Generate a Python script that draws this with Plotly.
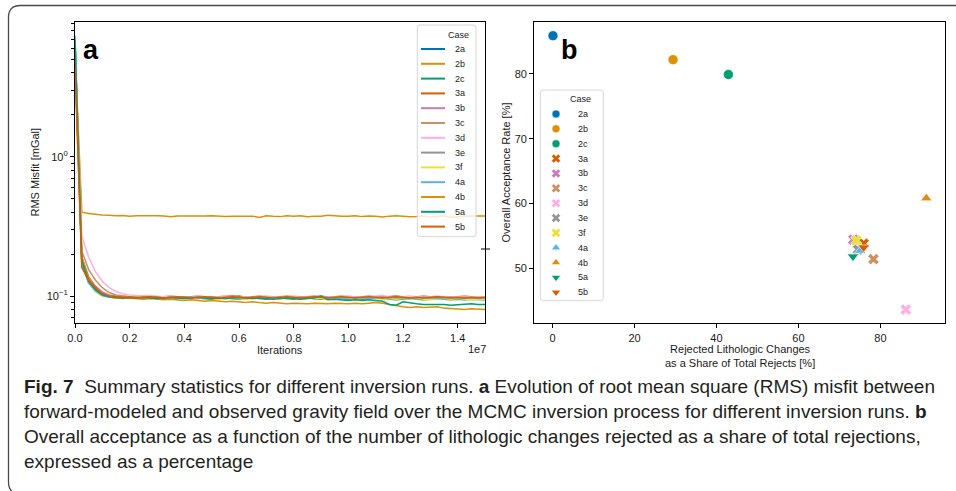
import math
import plotly.graph_objects as go

W, H = 956, 491

# ---- cases shared by both panels -------------------------------------------
cases = ["2a", "2b", "2c", "3a", "3b", "3c", "3d", "3e", "3f", "4a", "4b", "5a", "5b"]
case_colors = ["#0173B2", "#DE8F05", "#029E73", "#D55E00", "#CC78BC", "#CA9161",
               "#FBAFE4", "#949494", "#ECE133", "#56B4E9", "#DE8F05", "#029E73", "#D55E00"]
case_symbols = ["circle"] * 3 + ["x"] * 6 + ["triangle-up"] * 2 + ["triangle-down"] * 2

# ---- panel a: RMS misfit [mGal] sampled every 250 000 iterations ------------
iteration_step = 250000
iterations = [i * iteration_step for i in range(61)]

misfit_2a = [7.2, 0.18, 0.128, 0.112, 0.103, 0.099, 0.098, 0.097, 0.097, 0.098,
             0.097, 0.096, 0.097, 0.098, 0.097, 0.096, 0.097, 0.096, 0.097, 0.098,
             0.097, 0.096, 0.097, 0.098, 0.097, 0.096, 0.097, 0.097, 0.098, 0.097,
             0.096, 0.097, 0.098, 0.099, 0.097, 0.096, 0.097, 0.098, 0.097, 0.096,
             0.097, 0.098, 0.097, 0.096, 0.097, 0.098, 0.097, 0.096, 0.097, 0.098,
             0.097, 0.096, 0.097, 0.096, 0.097, 0.098, 0.097, 0.096, 0.097, 0.096,
             0.097]
misfit_2b = [5.6, 0.400, 0.392, 0.386, 0.382, 0.380, 0.377, 0.379, 0.375, 0.377,
             0.378, 0.375, 0.377, 0.376, 0.371, 0.376, 0.375, 0.378, 0.374, 0.376,
             0.377, 0.375, 0.372, 0.375, 0.374, 0.376, 0.375, 0.366, 0.377, 0.374,
             0.372, 0.377, 0.375, 0.378, 0.371, 0.375, 0.374, 0.380, 0.376, 0.375,
             0.374, 0.377, 0.372, 0.376, 0.374, 0.370, 0.375, 0.377, 0.374, 0.371,
             0.373, 0.376, 0.370, 0.374, 0.377, 0.367, 0.373, 0.375, 0.376, 0.374,
             0.376]
misfit_2c = [6.8, 0.17, 0.125, 0.110, 0.102, 0.099, 0.098, 0.098, 0.097, 0.097,
             0.098, 0.097, 0.096, 0.097, 0.098, 0.099, 0.097, 0.096, 0.097, 0.096,
             0.095, 0.096, 0.097, 0.096, 0.095, 0.096, 0.097, 0.096, 0.095, 0.096,
             0.097, 0.096, 0.095, 0.096, 0.097, 0.096, 0.095, 0.096, 0.097, 0.096,
             0.095, 0.096, 0.095, 0.096, 0.097, 0.096, 0.095, 0.094, 0.095, 0.096,
             0.095, 0.094, 0.095, 0.096, 0.095, 0.094, 0.095, 0.094, 0.095, 0.094,
             0.094]
misfit_3a = [4.8, 0.165, 0.135, 0.117, 0.106, 0.101, 0.099, 0.098, 0.098, 0.099,
             0.098, 0.099, 0.098, 0.097, 0.098, 0.099, 0.098, 0.097, 0.098, 0.099,
             0.098, 0.097, 0.098, 0.099, 0.100, 0.098, 0.097, 0.098, 0.099, 0.098,
             0.097, 0.098, 0.099, 0.098, 0.097, 0.098, 0.099, 0.098, 0.097, 0.098,
             0.099, 0.098, 0.097, 0.098, 0.099, 0.098, 0.097, 0.098, 0.099, 0.098,
             0.097, 0.098, 0.099, 0.098, 0.097, 0.098, 0.097, 0.098, 0.099, 0.098,
             0.097]
misfit_3b = [5.9, 0.19, 0.138, 0.118, 0.107, 0.102, 0.100, 0.099, 0.099, 0.098,
             0.099, 0.098, 0.097, 0.098, 0.099, 0.098, 0.097, 0.098, 0.099, 0.098,
             0.097, 0.098, 0.099, 0.098, 0.097, 0.096, 0.097, 0.098, 0.097, 0.098,
             0.099, 0.098, 0.097, 0.098, 0.097, 0.098, 0.099, 0.098, 0.097, 0.098,
             0.097, 0.098, 0.099, 0.098, 0.097, 0.098, 0.099, 0.100, 0.098, 0.097,
             0.098, 0.099, 0.098, 0.097, 0.098, 0.099, 0.098, 0.097, 0.098, 0.097,
             0.098]
misfit_3c = [6.0, 0.21, 0.155, 0.130, 0.115, 0.106, 0.102, 0.100, 0.099, 0.099,
             0.100, 0.099, 0.098, 0.099, 0.100, 0.099, 0.098, 0.099, 0.100, 0.099,
             0.098, 0.099, 0.100, 0.101, 0.099, 0.098, 0.099, 0.100, 0.099, 0.098,
             0.099, 0.100, 0.099, 0.098, 0.099, 0.100, 0.099, 0.098, 0.099, 0.100,
             0.099, 0.098, 0.099, 0.100, 0.099, 0.098, 0.099, 0.100, 0.099, 0.098,
             0.099, 0.100, 0.099, 0.098, 0.099, 0.098, 0.099, 0.100, 0.099, 0.098,
             0.099]
misfit_3d = [6.2, 0.27, 0.19, 0.150, 0.128, 0.115, 0.108, 0.104, 0.102, 0.101,
             0.100, 0.101, 0.100, 0.099, 0.100, 0.099, 0.098, 0.099, 0.100, 0.099,
             0.098, 0.099, 0.100, 0.099, 0.098, 0.099, 0.098, 0.099, 0.100, 0.099,
             0.098, 0.099, 0.100, 0.099, 0.098, 0.099, 0.100, 0.099, 0.098, 0.099,
             0.100, 0.099, 0.098, 0.099, 0.100, 0.101, 0.099, 0.098, 0.099, 0.100,
             0.099, 0.098, 0.099, 0.100, 0.099, 0.098, 0.099, 0.098, 0.099, 0.098,
             0.099]
misfit_3e = [6.4, 0.185, 0.133, 0.114, 0.104, 0.100, 0.098, 0.097, 0.098, 0.097,
             0.096, 0.097, 0.098, 0.097, 0.096, 0.097, 0.098, 0.097, 0.096, 0.097,
             0.098, 0.097, 0.096, 0.097, 0.096, 0.097, 0.098, 0.097, 0.096, 0.097,
             0.097, 0.096, 0.097, 0.098, 0.097, 0.096, 0.097, 0.096, 0.097, 0.098,
             0.097, 0.096, 0.097, 0.096, 0.097, 0.098, 0.097, 0.096, 0.097, 0.096,
             0.097, 0.096, 0.097, 0.098, 0.097, 0.096, 0.097, 0.096, 0.097, 0.096,
             0.096]
misfit_3f = [6.6, 0.175, 0.124, 0.107, 0.100, 0.098, 0.097, 0.097, 0.096, 0.097,
             0.098, 0.097, 0.096, 0.097, 0.098, 0.097, 0.096, 0.097, 0.096, 0.097,
             0.096, 0.095, 0.096, 0.097, 0.096, 0.095, 0.096, 0.097, 0.096, 0.097,
             0.096, 0.097, 0.096, 0.095, 0.096, 0.097, 0.096, 0.095, 0.096, 0.097,
             0.096, 0.095, 0.096, 0.097, 0.096, 0.095, 0.096, 0.095, 0.096, 0.095,
             0.096, 0.095, 0.094, 0.095, 0.096, 0.095, 0.096, 0.095, 0.094, 0.095,
             0.095]
misfit_4a = [7.4, 0.17, 0.124, 0.109, 0.101, 0.098, 0.097, 0.097, 0.098, 0.097,
             0.096, 0.097, 0.098, 0.097, 0.096, 0.097, 0.098, 0.099, 0.097, 0.096,
             0.097, 0.098, 0.097, 0.096, 0.097, 0.098, 0.097, 0.096, 0.097, 0.098,
             0.097, 0.096, 0.097, 0.098, 0.097, 0.099, 0.100, 0.098, 0.097, 0.096,
             0.097, 0.098, 0.097, 0.096, 0.097, 0.098, 0.097, 0.098, 0.097, 0.096,
             0.097, 0.098, 0.097, 0.096, 0.097, 0.098, 0.097, 0.096, 0.097, 0.096,
             0.097]
misfit_4b = [5.0, 0.19, 0.135, 0.115, 0.104, 0.099, 0.097, 0.096, 0.097, 0.096,
             0.095, 0.096, 0.095, 0.094, 0.095, 0.094, 0.093, 0.094, 0.093, 0.092,
             0.093, 0.092, 0.091, 0.092, 0.091, 0.090, 0.091, 0.090, 0.089, 0.090,
             0.089, 0.088, 0.089, 0.088, 0.088, 0.089, 0.088, 0.088, 0.089, 0.088,
             0.088, 0.089, 0.088, 0.089, 0.090, 0.089, 0.087, 0.085, 0.084, 0.083,
             0.084, 0.083, 0.083, 0.084, 0.082, 0.081, 0.080, 0.080, 0.081, 0.080,
             0.080]
misfit_5a = [6.9, 0.18, 0.128, 0.111, 0.102, 0.099, 0.098, 0.097, 0.098, 0.097,
             0.098, 0.097, 0.096, 0.097, 0.098, 0.097, 0.096, 0.097, 0.098, 0.097,
             0.096, 0.097, 0.096, 0.097, 0.098, 0.097, 0.096, 0.097, 0.096, 0.095,
             0.096, 0.097, 0.096, 0.095, 0.096, 0.097, 0.100, 0.094, 0.095, 0.094,
             0.093, 0.094, 0.093, 0.094, 0.093, 0.092, 0.087, 0.086, 0.091, 0.089,
             0.088, 0.087, 0.087, 0.088, 0.087, 0.086, 0.087, 0.087, 0.088, 0.087,
             0.087]
misfit_5b = [4.5, 0.16, 0.130, 0.115, 0.104, 0.100, 0.099, 0.098, 0.098, 0.097,
             0.098, 0.099, 0.098, 0.097, 0.098, 0.099, 0.098, 0.097, 0.098, 0.099,
             0.098, 0.097, 0.098, 0.099, 0.098, 0.097, 0.098, 0.099, 0.098, 0.097,
             0.098, 0.099, 0.098, 0.097, 0.098, 0.099, 0.098, 0.097, 0.098, 0.099,
             0.098, 0.097, 0.098, 0.099, 0.098, 0.097, 0.098, 0.099, 0.098, 0.097,
             0.098, 0.097, 0.098, 0.099, 0.098, 0.097, 0.098, 0.097, 0.098, 0.097,
             0.098]

misfit_series = [misfit_2a, misfit_2b, misfit_2c, misfit_3a, misfit_3b, misfit_3c,
                 misfit_3d, misfit_3e, misfit_3f, misfit_4a, misfit_4b, misfit_5a,
                 misfit_5b]
for name, s in zip(cases, misfit_series):
    if len(s) != len(iterations):
        raise ValueError(f"series {name} has {len(s)} samples")

iteration_ticks = [0, 2e6, 4e6, 6e6, 8e6, 10e6, 12e6, 14e6]
iteration_tick_labels = ["0.0", "0.2", "0.4", "0.6", "0.8", "1.0", "1.2", "1.4"]
misfit_ticks = [0.1, 1]
misfit_tick_labels = ["10<sup>\u22121</sup>", "10<sup>0</sup>"]

# ---- panel b: acceptance vs share of lithologic rejections -------------------
rejected_share = [0.1, 29.4, 42.9, 75.9, 73.4, 78.3, 86.2, 74.5, 74.1, 75.1, 91.2, 73.3, 75.9]
acceptance_rate = [85.9, 82.2, 79.9, 53.8, 54.4, 51.4, 43.6, 52.9, 54.3, 52.7, 60.8, 51.8, 53.2]
share_ticks = [0, 20, 40, 60, 80]
rate_ticks = [50, 60, 70, 80]

# ---- helpers: pixel -> paper ----------------------------------------------------
def px(x):
    return x / W


def py(y):
    return 1 - y / H


def rounded_box(x0, y0, x1, y1, r):
    return (f"M {px(x0 + r)},{py(y0)} L {px(x1 - r)},{py(y0)} "
            f"Q {px(x1)},{py(y0)} {px(x1)},{py(y0 + r)} L {px(x1)},{py(y1 - r)} "
            f"Q {px(x1)},{py(y1)} {px(x1 - r)},{py(y1)} L {px(x0 + r)},{py(y1)} "
            f"Q {px(x0)},{py(y1)} {px(x0)},{py(y1 - r)} L {px(x0)},{py(y0 + r)} "
            f"Q {px(x0)},{py(y0)} {px(x0 + r)},{py(y0)} Z")


FONT = "Liberation Sans, Arial, sans-serif"
TXT = "#1a1a1a"

fig = go.Figure()

for name, color, s in zip(cases, case_colors, misfit_series):
    fig.add_trace(go.Scatter(x=iterations, y=s, mode="lines", name=name,
                             line=dict(color=color, width=1.5),
                             xaxis="x", yaxis="y", showlegend=False))

for i, name in enumerate(cases):
    fig.add_trace(go.Scatter(x=[rejected_share[i]], y=[acceptance_rate[i]], mode="markers",
                             name=name, xaxis="x2", yaxis="y2", showlegend=False,
                             marker=dict(color=case_colors[i], symbol=case_symbols[i], size=10,
                                         line=dict(color="white", width=0.6))))

# legend keys of panel b, stacked on an auxiliary pixel-scaled axis
LB_X0, LB_Y0, LB_X1, LB_Y1 = 540.3, 90, 603.3, 300.7
LB_FIRST, LB_STEP = 114, 14.86
fig.add_trace(go.Scatter(x=[556] * len(cases), y=[LB_FIRST + i * LB_STEP for i in range(len(cases))],
                         mode="markers", xaxis="x3", yaxis="y3", showlegend=False, hoverinfo="skip",
                         marker=dict(color=case_colors, symbol=case_symbols, size=8,
                                     line=dict(color="white", width=0.5))))

# ---- axis ranges (5 % padding as matplotlib autoscale) --------------------------
all_misfit = [v for s in misfit_series for v in s]
lo, hi = math.log10(min(all_misfit)), math.log10(max(all_misfit))
pad = 0.05 * (hi - lo)
misfit_range = [lo - pad, hi + pad]
minor_misfit = [0.07, 0.08, 0.09] + [k / 10 for k in range(2, 10)] + list(range(2, 10))

xs_pad = 0.05 * (max(rejected_share) - min(rejected_share))
share_range = [min(rejected_share) - xs_pad, max(rejected_share) + xs_pad]
ys_pad = 0.05 * (max(acceptance_rate) - min(acceptance_rate))
rate_range = [min(acceptance_rate) - ys_pad, max(acceptance_rate) + ys_pad]

axis_common = dict(showline=True, linecolor="black", linewidth=1.2, mirror=True,
                   showgrid=False, zeroline=False, ticks="outside", ticklen=4,
                   tickwidth=1, tickcolor="black", automargin=False,
                   tickfont=dict(family=FONT, size=11, color=TXT))

PLOT_TOP, PLOT_BOTTOM = 22, 323.3

fig.update_layout(
    width=W, height=H,
    margin=dict(l=0, r=0, t=0, b=0, autoexpand=False),
    paper_bgcolor="white", plot_bgcolor="rgba(0,0,0,0)",
    showlegend=False,
    xaxis=dict(domain=[px(75), px(485)], anchor="y", range=[0, 1.5e7],
               tickvals=iteration_ticks, ticktext=iteration_tick_labels, **axis_common),
    yaxis=dict(domain=[py(PLOT_BOTTOM), py(PLOT_TOP)], anchor="x", type="log",
               range=misfit_range, tickvals=misfit_ticks, ticktext=misfit_tick_labels,
               minor=dict(tickvals=minor_misfit, ticks="outside", ticklen=2.5,
                          tickwidth=0.8, tickcolor="black"),
               **axis_common),
    xaxis2=dict(domain=[px(534.3), px(945)], anchor="y2", range=share_range,
                tickvals=share_ticks, **axis_common),
    yaxis2=dict(domain=[py(PLOT_BOTTOM), py(PLOT_TOP)], anchor="x2", range=rate_range,
                tickvals=rate_ticks, **axis_common),
    xaxis3=dict(domain=[px(LB_X0), px(LB_X1)], anchor="y3", range=[LB_X0, LB_X1],
                visible=False, fixedrange=True, automargin=False),
    yaxis3=dict(domain=[py(LB_Y1), py(LB_Y0)], anchor="x3", range=[LB_Y1, LB_Y0],
                visible=False, fixedrange=True, automargin=False),
)

shapes = []
# figure frame with rounded corners
shapes.append(dict(type="path", xref="paper", yref="paper", layer="above",
                   path=rounded_box(8.5, 5.5, 980, 494, 12),
                   line=dict(color="#4a4a4a", width=1.3)))
# legend box of panel b (beneath its keys)
shapes.append(dict(type="path", xref="paper", yref="paper", layer="below",
                   path=rounded_box(LB_X0, LB_Y0, LB_X1, LB_Y1, 3),
                   fillcolor="rgba(255,255,255,0.8)", line=dict(color="#d6d6d6", width=1)))
# legend box of panel a, over the lines
LA_X0, LA_Y0, LA_X1, LA_Y1 = 417.3, 25, 476, 236.7
LA_FIRST, LA_STEP = 49, 14.8
shapes.append(dict(type="path", xref="paper", yref="paper", layer="above",
                   path=rounded_box(LA_X0, LA_Y0, LA_X1, LA_Y1, 3),
                   fillcolor="rgba(255,255,255,0.8)", line=dict(color="#d6d6d6", width=1)))
for i, color in enumerate(case_colors):
    yy = LA_FIRST + i * LA_STEP
    shapes.append(dict(type="line", xref="paper", yref="paper", layer="above",
                       x0=px(421), x1=px(445), y0=py(yy), y1=py(yy),
                       line=dict(color=color, width=2)))
# small tick crossing the right spine of panel a
shapes.append(dict(type="line", xref="paper", yref="paper", layer="above",
                   x0=px(481), x1=px(490), y0=py(249), y1=py(249),
                   line=dict(color="black", width=1)))

annotations = []


def note(text, x, y, size=11, xanchor="center", yanchor="middle", angle=0,
         family=FONT, color=TXT):
    annotations.append(dict(text=text, x=px(x), y=py(y), xref="paper", yref="paper",
                            xanchor=xanchor, yanchor=yanchor, showarrow=False,
                            textangle=angle, font=dict(family=family, size=size, color=color)))


# legend labels
note("Case", 458.8, 35, size=9)
note("Case", 580, 99, size=9)
for i, name in enumerate(cases):
    note(name, 452.7, LA_FIRST + i * LA_STEP, size=9, xanchor="left")
    note(name, 575.7, LB_FIRST + i * LB_STEP, size=9, xanchor="left")

# panel letters
note("<b>a</b>", 91, 50, size=27, color="black")
note("<b>b</b>", 569, 50, size=27, color="black")

# axis titles
note("RMS Misfit [mGal]", 34, 172.5, angle=-90)
note("Iterations", 280, 350)
note("1e7", 477, 349)
note("Overall Acceptance Rate [%]", 505, 172.5, angle=-90)
note("Rejected Lithologic Changes<br>as a Share of Total Rejects [%]", 740, 356)

# caption
caption_lines = [
    "<b>Fig. 7</b>\u00a0\u00a0Summary statistics for different inversion runs. <b>a</b> Evolution of root mean square (RMS) misfit between",
    "forward-modeled and observed gravity field over the MCMC inversion process for different inversion runs. <b>b</b>",
    "Overall acceptance as a function of the number of lithologic changes rejected as a share of total rejections,",
    "expressed as a percentage",
]
for k, line in enumerate(caption_lines):
    note(line, 22, 386 + 25 * k, size=19, xanchor="left", color="#231f20")

fig.update_layout(shapes=shapes, annotations=annotations)
fig.write_html("out.html")
